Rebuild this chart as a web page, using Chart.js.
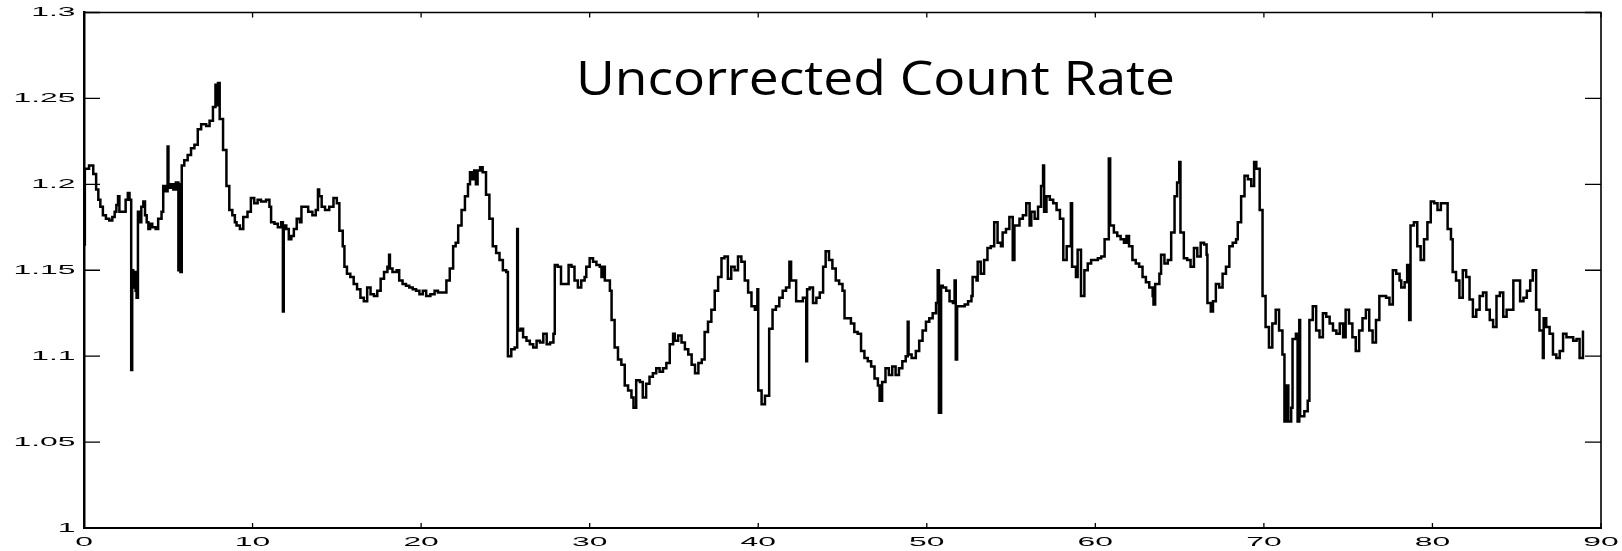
<!DOCTYPE html>
<html>
<head>
<meta charset="utf-8">
<script src="https://cdn.jsdelivr.net/npm/chart.js@4/dist/chart.umd.min.js"></script>
<style>
  html, body { margin: 0; padding: 0; background: #ffffff; }
  #wrap { width: 1622px; height: 551px; position: relative; }
</style>
</head>
<body>
<div id="wrap"><canvas id="plot" width="1622" height="551"></canvas></div>
<script>
// Count rate samples as [time, rate]; each rate holds until the next time stamp.
const rate00 = [
  [0.00,1.165],[0.05,1.209],[0.30,1.211],[0.55,1.206],[0.72,1.197],[0.85,1.191],[0.97,1.187],
  [1.12,1.182],[1.30,1.180],[1.50,1.179],[1.68,1.181],[1.82,1.184],[1.92,1.188],[2.02,1.193],
  [2.10,1.184],[2.30,1.184],[2.47,1.191],[2.60,1.195],[2.70,1.191],[2.80,1.092],[2.86,1.150],
  [2.92,1.140],[3.00,1.149],[3.06,1.138],[3.12,1.134],[3.20,1.184],[3.30,1.178],[3.40,1.187],
  [3.52,1.190],[3.62,1.182],[3.72,1.178],[3.82,1.174],[3.92,1.177],[4.05,1.175],[4.25,1.174],
  [4.40,1.180],[4.60,1.184],[4.70,1.199],[4.82,1.196],[4.96,1.222],[5.01,1.198],[5.15,1.200],
  [5.30,1.197],[5.45,1.201],[5.60,1.150],[5.66,1.200],[5.72,1.149],[5.80,1.211],[5.95,1.214],
  [6.15,1.217],[6.35,1.221],[6.55,1.223],[6.75,1.232],[6.95,1.235],[7.25,1.234],[7.45,1.237],
  [7.65,1.245],[7.80,1.258],[7.88,1.246],[7.95,1.259],[8.05,1.238],[8.25,1.220],[8.45,1.199],
  [8.62,1.185],[8.80,1.182],[8.95,1.178],[9.05,1.176],[9.25,1.174],[9.45,1.181],[9.70,1.184],
  [9.90,1.192]
];
const rate10 = [
  [10.10,1.189],[10.30,1.191],[10.50,1.190],[10.80,1.191],[11.00,1.187],[11.10,1.178],[11.30,1.177],
  [11.50,1.175],[11.70,1.178],[11.80,1.126],[11.85,1.176],[12.00,1.174],[12.15,1.168],[12.30,1.170],
  [12.45,1.174],[12.62,1.180],[12.80,1.178],[12.90,1.187],[13.10,1.187],[13.30,1.184],[13.55,1.182],
  [13.75,1.185],[13.88,1.197],[13.95,1.193],[14.10,1.187],[14.30,1.185],[14.55,1.187],[14.80,1.192],
  [15.00,1.189],[15.15,1.173],[15.35,1.164],[15.45,1.152],[15.60,1.148],[15.80,1.146],[16.00,1.142],
  [16.20,1.139],[16.40,1.134],[16.60,1.132],[16.80,1.140],[17.00,1.136],[17.20,1.135],[17.40,1.138],
  [17.60,1.145],[17.80,1.149],[18.00,1.152],[18.10,1.159],[18.15,1.151],[18.30,1.149],[18.55,1.150],
  [18.70,1.144],[18.90,1.142],[19.10,1.141],[19.30,1.140],[19.50,1.139],[19.70,1.138],[19.90,1.136]
];
const rate20 = [
  [20.10,1.138],[20.30,1.135],[20.55,1.136],[20.80,1.138],[21.00,1.137],[21.30,1.137],[21.50,1.144],
  [21.70,1.151],[21.90,1.164],[22.05,1.166],[22.20,1.176],[22.40,1.185],[22.60,1.193],[22.78,1.200],
  [22.90,1.207],[23.05,1.203],[23.15,1.208],[23.25,1.200],[23.35,1.208],[23.50,1.210],[23.65,1.207],
  [23.85,1.194],[24.05,1.180],[24.25,1.164],[24.45,1.160],[24.65,1.156],[24.85,1.150],[25.05,1.149],
  [25.15,1.100],[25.35,1.104],[25.55,1.105],[25.70,1.174],[25.74,1.115],[25.90,1.116],[26.05,1.111],
  [26.25,1.109],[26.45,1.107],[26.65,1.105],[26.85,1.109],[27.05,1.108],[27.25,1.113],[27.45,1.107],
  [27.65,1.108],[27.85,1.113],[27.93,1.153],[28.10,1.152],[28.30,1.142],[28.55,1.142],[28.75,1.153],
  [28.92,1.152],[29.10,1.144],[29.30,1.140],[29.50,1.144],[29.70,1.146],[29.80,1.152]
];
const rate30 = [
  [30.00,1.157],[30.20,1.155],[30.40,1.153],[30.60,1.152],[30.70,1.146],[30.80,1.152],[30.90,1.144],
  [31.05,1.144],[31.20,1.138],[31.30,1.121],[31.48,1.105],[31.68,1.098],[31.88,1.095],[32.08,1.083],
  [32.28,1.080],[32.48,1.076],[32.60,1.070],[32.76,1.086],[32.98,1.085],[33.15,1.076],[33.35,1.084],
  [33.55,1.088],[33.75,1.090],[33.95,1.093],[34.15,1.091],[34.35,1.093],[34.55,1.096],[34.75,1.107],
  [34.95,1.113],[35.05,1.109],[35.25,1.112],[35.45,1.108],[35.65,1.104],[35.85,1.101],[36.05,1.095],
  [36.25,1.090],[36.45,1.096],[36.65,1.098],[36.82,1.114],[37.02,1.120],[37.22,1.127],[37.42,1.138],
  [37.62,1.146],[37.82,1.157],[38.00,1.158],[38.20,1.145],[38.40,1.152],[38.60,1.150],[38.80,1.158],
  [39.00,1.155],[39.20,1.144],[39.40,1.137],[39.60,1.129],[39.80,1.127],[39.95,1.139]
];
const rate40 = [
  [40.00,1.080],[40.20,1.072],[40.40,1.077],[40.65,1.116],[40.85,1.127],[41.05,1.129],[41.25,1.134],
  [41.45,1.138],[41.65,1.140],[41.85,1.155],[41.95,1.144],[42.05,1.144],[42.25,1.132],[42.45,1.132],
  [42.65,1.134],[42.85,1.097],[42.90,1.139],[43.05,1.140],[43.25,1.131],[43.45,1.134],[43.65,1.137],
  [43.85,1.152],[44.00,1.161],[44.20,1.156],[44.40,1.151],[44.60,1.144],[44.80,1.142],[45.00,1.138],
  [45.12,1.122],[45.30,1.122],[45.50,1.119],[45.70,1.114],[45.90,1.113],[46.10,1.103],[46.30,1.099],
  [46.50,1.097],[46.70,1.094],[46.90,1.087],[47.10,1.083],[47.20,1.074],[47.35,1.085],[47.55,1.093],
  [47.75,1.089],[47.95,1.094],[48.15,1.089],[48.35,1.093],[48.55,1.097],[48.75,1.100],[48.87,1.120],
  [48.92,1.101],[49.10,1.099],[49.35,1.103],[49.55,1.109],[49.75,1.115],[49.95,1.120]
];
const rate50 = [
  [50.15,1.122],[50.35,1.125],[50.55,1.131],[50.65,1.150],[50.72,1.067],[50.85,1.141],[50.95,1.140],
  [51.15,1.138],[51.35,1.132],[51.55,1.131],[51.65,1.144],[51.72,1.098],[51.80,1.129],[52.00,1.129],
  [52.25,1.130],[52.45,1.132],[52.65,1.135],[52.72,1.146],[52.95,1.144],[53.02,1.155],[53.20,1.148],
  [53.40,1.156],[53.60,1.163],[53.80,1.164],[54.00,1.178],[54.20,1.166],[54.40,1.164],[54.50,1.172],
  [54.70,1.174],[54.90,1.181],[55.10,1.156],[55.20,1.176],[55.50,1.180],[55.70,1.182],[55.90,1.189],
  [56.10,1.176],[56.20,1.184],[56.40,1.180],[56.60,1.187],[56.78,1.199],[56.90,1.211],[56.96,1.184],
  [57.10,1.193],[57.30,1.191],[57.50,1.189],[57.70,1.185],[57.90,1.180],[58.10,1.156],[58.30,1.164],
  [58.55,1.189],[58.62,1.152],[58.85,1.146],[58.95,1.162],[59.15,1.135],[59.35,1.150],[59.55,1.154],
  [59.75,1.156],[59.95,1.156]
];
const rate60 = [
  [60.15,1.157],[60.35,1.158],[60.55,1.168],[60.80,1.215],[60.88,1.176],[61.10,1.172],[61.30,1.170],
  [61.50,1.168],[61.70,1.166],[61.85,1.170],[62.00,1.164],[62.20,1.156],[62.40,1.154],[62.60,1.152],
  [62.80,1.146],[63.00,1.143],[63.20,1.140],[63.40,1.135],[63.45,1.130],[63.55,1.142],[63.80,1.148],
  [63.90,1.159],[64.10,1.154],[64.30,1.156],[64.50,1.172],[64.70,1.193],[64.85,1.201],[64.98,1.213],
  [65.05,1.172],[65.25,1.157],[65.45,1.156],[65.65,1.152],[65.85,1.163],[66.05,1.158],[66.25,1.166],
  [66.45,1.165],[66.60,1.159],[66.65,1.131],[66.85,1.126],[66.98,1.132],[67.15,1.142],[67.35,1.140],
  [67.55,1.148],[67.75,1.152],[67.95,1.164],[68.15,1.166],[68.35,1.168],[68.45,1.178],[68.65,1.193],
  [68.85,1.205],[69.05,1.203],[69.25,1.199],[69.42,1.213],[69.55,1.209],[69.75,1.185],[69.92,1.135]
];
const rate70 = [
  [70.10,1.117],[70.30,1.105],[70.50,1.119],[70.70,1.127],[70.90,1.115],[71.10,1.101],[71.22,1.062],
  [71.35,1.083],[71.45,1.062],[71.62,1.070],[71.70,1.110],[71.90,1.113],[72.00,1.062],[72.10,1.121],
  [72.15,1.065],[72.40,1.068],[72.60,1.074],[72.70,1.121],[72.90,1.129],[73.10,1.115],[73.30,1.111],
  [73.50,1.125],[73.70,1.123],[73.90,1.119],[74.10,1.115],[74.30,1.113],[74.50,1.119],[74.70,1.111],
  [74.85,1.127],[75.05,1.119],[75.25,1.111],[75.45,1.103],[75.65,1.115],[75.85,1.122],[76.05,1.127],
  [76.25,1.115],[76.45,1.108],[76.65,1.121],[76.85,1.135],[77.25,1.134],[77.45,1.130],[77.65,1.150],
  [77.85,1.148],[78.05,1.144],[78.15,1.140],[78.35,1.143],[78.50,1.153],[78.62,1.121],[78.70,1.176],
  [78.90,1.178],[79.10,1.164],[79.30,1.156],[79.50,1.168],[79.70,1.178],[79.90,1.190]
];
const rate80 = [
  [80.10,1.189],[80.30,1.185],[80.50,1.189],[80.70,1.189],[80.90,1.174],[81.10,1.168],[81.20,1.149],
  [81.40,1.144],[81.60,1.134],[81.80,1.150],[82.00,1.146],[82.20,1.133],[82.40,1.123],[82.60,1.127],
  [82.80,1.135],[83.00,1.137],[83.20,1.127],[83.40,1.121],[83.60,1.117],[83.80,1.135],[84.00,1.137],
  [84.20,1.123],[84.40,1.127],[84.60,1.127],[84.80,1.144],[85.00,1.144],[85.20,1.132],[85.40,1.134],
  [85.60,1.138],[85.80,1.144],[85.95,1.150],[86.15,1.127],[86.35,1.115],[86.55,1.099],[86.60,1.122],
  [86.75,1.117],[86.95,1.113],[87.15,1.101],[87.35,1.099],[87.55,1.103],[87.75,1.113],[87.95,1.111],
  [88.15,1.111],[88.35,1.109],[88.55,1.110],[88.73,1.099],[88.93,1.115]
];

// Axis ticks and title
const timeTicks = [0, 10, 20, 30, 40, 50, 60, 70, 80, 90];
const rateTicks = [1, 1.05, 1.1, 1.15, 1.2, 1.25, 1.3];
const rateTickLabels = ['1', '1.05', '1.1', '1.15', '1.2', '1.25', '1.3'];
const plotTitle = 'Uncorrected Count Rate';

const samples = [].concat(rate00, rate10, rate20, rate30, rate40, rate50, rate60, rate70, rate80)
  .map(([t, r]) => ({ x: t, y: r }));

const LABEL_FONT = '13px "Liberation Sans", Arial, sans-serif';
const LABEL_STRETCH = 2.45;

function stretchedText(ctx, text, x, y, align) {
  ctx.font = LABEL_FONT;
  const w = ctx.measureText(text).width * LABEL_STRETCH;
  const left = align === 'right' ? x - w : (align === 'center' ? x - w / 2 : x);
  ctx.save();
  ctx.translate(left, y);
  ctx.scale(LABEL_STRETCH, 1);
  ctx.textAlign = 'left';
  ctx.textBaseline = 'middle';
  ctx.fillStyle = '#000';
  ctx.fillText(text, 0, 0);
  ctx.restore();
}

// Frame, inward tick marks, stretched tick labels and the in-plot title
const framePlugin = {
  id: 'frame',
  afterDraw(chart) {
    const { ctx, chartArea: a, scales } = chart;
    const xs = scales.x, ys = scales.y;
    ctx.save();
    ctx.strokeStyle = '#000';
    ctx.lineWidth = 1.6;
    ctx.beginPath();
    ctx.moveTo(a.left, a.top); ctx.lineTo(a.right, a.top); ctx.lineTo(a.right, a.bottom);
    ctx.stroke();

    ctx.lineWidth = 1.3;
    ctx.beginPath();
    xs.ticks.forEach(t => {
      const px = xs.getPixelForValue(t.value);
      ctx.moveTo(px, a.bottom); ctx.lineTo(px, a.bottom - 5);
      ctx.moveTo(px, a.top); ctx.lineTo(px, a.top + 5);
    });
    ys.ticks.forEach(t => {
      const py = ys.getPixelForValue(t.value);
      ctx.moveTo(a.left, py); ctx.lineTo(a.left + 16, py);
      ctx.moveTo(a.right, py); ctx.lineTo(a.right - 16, py);
    });
    ctx.stroke();

    xs.ticks.forEach(t => stretchedText(ctx, t.label, xs.getPixelForValue(t.value), a.bottom + 14, 'center'));
    ys.ticks.forEach(t => stretchedText(ctx, t.label, a.left - 8.5, ys.getPixelForValue(t.value), 'right'));

    // title inside the plotting area
    ctx.font = '400 47px "Open Sans", sans-serif';
    const tw = ctx.measureText(plotTitle).width;
    const sx = 599 / tw;
    ctx.translate(576, 95);
    ctx.scale(sx, 1);
    ctx.textAlign = 'left';
    ctx.textBaseline = 'alphabetic';
    ctx.fillStyle = '#000';
    ctx.fillText(plotTitle, 0, 0);
    ctx.restore();
  }
};

new Chart(document.getElementById('plot'), {
  type: 'line',
  data: {
    datasets: [{
      data: samples,
      stepped: true,
      borderColor: '#000',
      borderWidth: 2.5,
      pointRadius: 0,
      fill: false,
      tension: 0
    }]
  },
  options: {
    responsive: false,
    animation: false,
    events: [],
    layout: { padding: { top: 12.5, right: 21, left: 0, bottom: 0 } },
    plugins: { legend: { display: false }, tooltip: { enabled: false }, title: { display: false } },
    scales: {
      x: {
        type: 'linear',
        min: 0, max: 90,
        afterBuildTicks: s => { s.ticks = timeTicks.map(v => ({ value: v })); },
        ticks: { display: false, callback: v => String(v) },
        grid: { display: false },
        border: { display: true, color: '#000', width: 2 },
        afterFit: s => { s.height = 23; }
      },
      y: {
        type: 'linear',
        min: 1, max: 1.3,
        afterBuildTicks: s => { s.ticks = rateTicks.map(v => ({ value: v })); },
        ticks: { display: false, callback: v => rateTickLabels[rateTicks.indexOf(v)] ?? String(v) },
        grid: { display: false },
        border: { display: true, color: '#000', width: 2.5 },
        afterFit: s => { s.width = 84; }
      }
    }
  },
  plugins: [framePlugin]
});
</script>
</body>
</html>
